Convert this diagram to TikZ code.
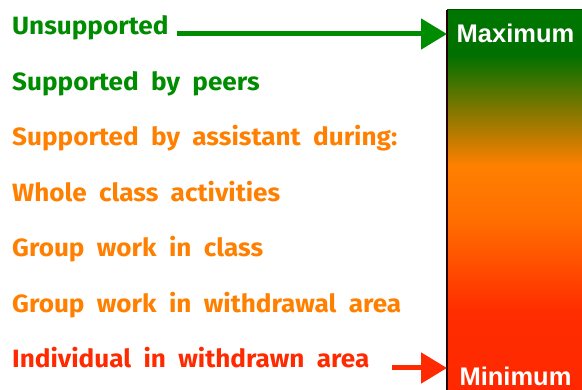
\documentclass[tikz,border=0pt]{standalone}
\usepackage{fontspec}
\setmainfont[FakeStretch=1.045,WordSpace=2.0]{Fira Sans}
\newfontfamily\labfont{Liberation Sans}
\usetikzlibrary{arrows.meta}
\definecolor{cgreen}{RGB}{0,140,0}
\definecolor{corange}{RGB}{255,128,0}
\definecolor{cred}{RGB}{255,42,0}
\definecolor{g1}{RGB}{0,118,0}
\definecolor{g2}{RGB}{0,112,0}
\definecolor{g3}{RGB}{105,118,0}
\definecolor{g4}{RGB}{255,128,0}
\definecolor{g5}{RGB}{255,110,0}
\definecolor{g6}{RGB}{255,82,0}
\definecolor{g7}{RGB}{255,45,0}
\definecolor{g8}{RGB}{255,40,0}
\pgfdeclareverticalshading{bargrad}{100bp}{color(0bp)=(g8); color(25bp)=(g8); color(35.5bp)=(g7); color(42.1bp)=(g6); color(47.4bp)=(g5); color(54.6bp)=(g4); color(63.2bp)=(g3); color(69.1bp)=(g2); color(75bp)=(g1); color(100bp)=(g1)}
\begin{document}
\begin{tikzpicture}[x=1pt,y=-1pt,
  item/.style={anchor=base west, inner sep=0pt, font=\fontsize{25}{25}\selectfont\bfseries},
  lab/.style={anchor=base, inner sep=0pt, text=white, font=\labfont\fontsize{25.5}{25.5}\selectfont\bfseries},
  arr/.style={line width=5pt, -{Triangle[length=26pt,width=30pt]}}]
\useasboundingbox (0,0) rectangle (582,390);
\node[anchor=north west, inner sep=0pt, minimum width=135pt, minimum height=380pt, shade, shading=bargrad] (bar) at (447,10) {};
\draw[line width=1.5pt, black!85!red] (bar.north west) -- (bar.south west);
\draw[line width=1pt, green!30!black] (bar.north west) -- (bar.north east);
\node[lab] (max) at (515.5,43) {Maximum};
\node[lab] (min) at (515.5,385.5) {Minimum};
\node[item, text=cgreen] (t1) at (12,35) {Unsupported};
\node[item, text=cgreen] (t2) at (12,90.5) {Supported by peers};
\node[item, text=corange] (t3) at (12,146) {Supported by assistant during:};
\node[item, text=corange] (t4) at (12,201.5) {Whole class activities};
\node[item, text=corange] (t5) at (12,257) {Group work in class};
\node[item, text=corange] (t6) at (12,312.5) {Group work in withdrawal area};
\node[item, text=cred] (t7) at (12,368) {Individual in withdrawn area};
\coordinate (gs) at (177,34);
\coordinate (rs) at (392,368);
\draw[arr, cgreen] (gs) -- (bar.west |- gs);
\draw[arr, cred] (rs) -- (bar.west |- rs);
\end{tikzpicture}
\end{document}
